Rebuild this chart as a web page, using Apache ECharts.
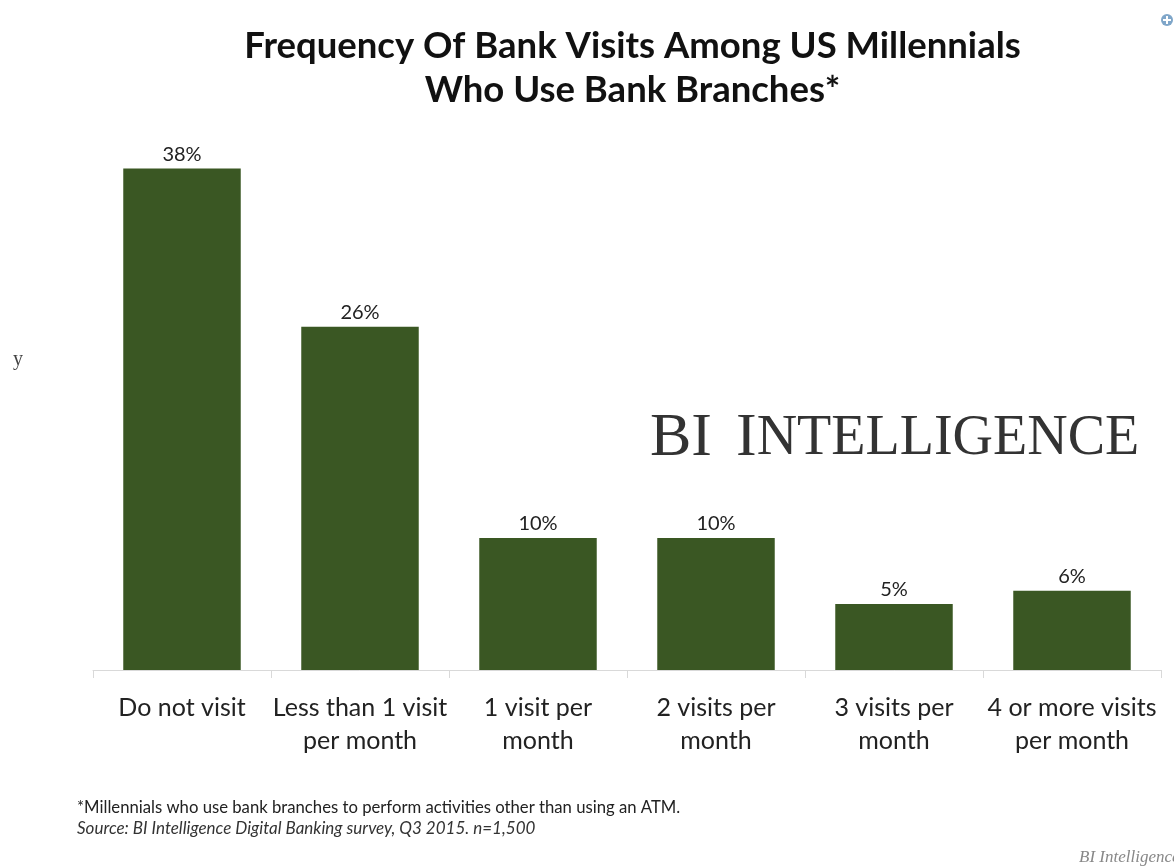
<!DOCTYPE html>
<html>
<head>
<meta charset="utf-8">
<style>html,body{margin:0;padding:0;background:#fff}#chart{width:1174px;height:866px}</style>
<script src="https://cdn.jsdelivr.net/npm/echarts@6/dist/echarts.min.js"></script>
</head>
<body>
<div id="chart"></div>
<script>
const categories = ['Do not visit', 'Less than 1 visit\nper month', '1 visit per\nmonth', '2 visits per\nmonth', '3 visits per\nmonth', '4 or more visits\nper month'];
const shares = [38, 26, 10, 10, 5, 6];
const titleLines = 'Frequency Of Bank Visits Among US Millennials\nWho Use Bank Branches*';
const footnote = '*Millennials who use bank branches to perform activities other than using an ATM.';
const source = 'Source: BI Intelligence Digital Banking survey, Q3 2015. n=1,500';

const chart = echarts.init(document.getElementById('chart'), null, {renderer: 'canvas'});
chart.setOption({
  backgroundColor: '#ffffff',
  animation: false,
  title: [
    {text: titleLines, left: 627.5, top: 19, textAlign: 'center',
     textStyle: {fontFamily: 'Lato', fontWeight: 'bold', fontSize: 36.5, lineHeight: 44, color: '#111111'}},
    {text: '{big|BI}{gap|  }{big|I}{small|NTELLIGENCE}', left: 645, top: 403,
     textStyle: {fontWeight: 'normal', rich: {
       big: {fontFamily: 'Liberation Serif', fontWeight: 'normal', fontSize: 62, color: '#333333'},
       gap: {fontFamily: 'Liberation Serif', fontWeight: 'normal', fontSize: 48, color: '#333333'},
       small: {fontFamily: 'Liberation Serif', fontWeight: 'normal', fontSize: 56, color: '#333333'}
     }}},
    {text: footnote, left: 72, top: 794,
     textStyle: {fontFamily: 'Lato', fontWeight: 'normal', fontSize: 16.7, color: '#222222'}},
    {text: source, left: 72, top: 815,
     textStyle: {fontFamily: 'Lato', fontWeight: 'normal', fontStyle: 'italic', fontSize: 17, color: '#333333'}},
    {text: 'BI Intelligence', left: 1074, top: 844,
     textStyle: {fontFamily: 'Liberation Serif', fontWeight: 'normal', fontStyle: 'italic', fontSize: 17, color: '#888888'}},
    {text: 'y', left: 8, top: 345,
     textStyle: {fontFamily: 'Liberation Serif', fontWeight: 'normal', fontSize: 20, color: '#444444'}}
  ],
  graphic: [
    {type: 'circle', shape: {cx: 1167, cy: 20, r: 6}, style: {fill: '#7fa6c9'}},
    {type: 'rect', shape: {x: 1163, y: 19, width: 8, height: 2}, style: {fill: '#ffffff'}},
    {type: 'rect', shape: {x: 1166, y: 16, width: 2, height: 8}, style: {fill: '#ffffff'}}
  ],
  grid: {left: 93, right: 13, top: 142, bottom: 196},
  xAxis: {
    type: 'category',
    data: categories,
    axisLine: {lineStyle: {color: '#d9d9d9', width: 1}},
    axisTick: {show: true, length: 8, lineStyle: {color: '#d9d9d9'}},
    axisLabel: {interval: 0, margin: 21, fontFamily: 'Lato', fontSize: 25, lineHeight: 33, color: '#222222'}
  },
  yAxis: {type: 'value', min: 0, max: 40, show: false},
  series: [{
    type: 'bar',
    data: shares,
    barWidth: '66%',
    barGap: 0,
    itemStyle: {color: '#3a5723'},
    label: {show: true, position: 'top', distance: 4, formatter: '{c}%',
            fontFamily: 'Lato', fontSize: 20, color: '#222222'}
  }]
});
</script>
</body>
</html>
